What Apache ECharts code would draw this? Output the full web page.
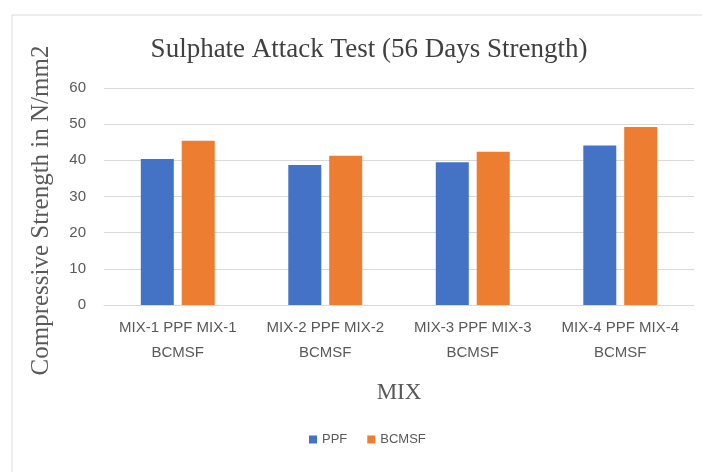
<!DOCTYPE html>
<html>
<head>
<meta charset="utf-8">
<title>Sulphate Attack Test</title>
<script src="https://cdn.jsdelivr.net/npm/echarts@6/dist/echarts.min.js"></script>
<style>
  html, body { margin: 0; padding: 0; background: #fff; }
  #chart { width: 702px; height: 472px; }
</style>
</head>
<body>
<div id="chart"></div>
<script>
// values
const categories = ['MIX-1 PPF MIX-1 BCMSF', 'MIX-2 PPF MIX-2 BCMSF', 'MIX-3 PPF MIX-3 BCMSF', 'MIX-4 PPF MIX-4 BCMSF']
const ppf = [40.4, 38.7, 39.5, 44.1]
const bcmsf = [45.4, 41.3, 42.4, 49.2]
const yTicks = [0, 10, 20, 30, 40, 50, 60]

const serif = '"Liberation Serif", "DejaVu Serif", serif'
const sans = '"Liberation Sans", Arial, sans-serif'
const grey = '#595959'

const chart = echarts.init(document.getElementById('chart'))

chart.setOption({
  animation: false,
  title: {
    text: 'Sulphate Attack Test (56 Days Strength)',
    left: 364,
    top: 31,
    textAlign: 'center',
    textStyle: { fontFamily: serif, fontWeight: 'normal', fontSize: 27, color: '#404040' },
  },
  // faint frame left over from the spreadsheet screenshot
  graphic: [
    { type: 'line', shape: { x1: 12, y1: 15, x2: 702, y2: 15 }, style: { stroke: '#d9d9d9', lineWidth: 1 } },
    { type: 'line', shape: { x1: 12, y1: 15, x2: 12, y2: 472 }, style: { stroke: '#d9d9d9', lineWidth: 1 } },
  ],
  legend: {
    data: ['PPF', 'BCMSF'],
    bottom: 21,
    left: 304,
    icon: 'rect',
    itemWidth: 8,
    itemHeight: 8,
    itemGap: 20,
    textStyle: { fontFamily: sans, fontSize: 13, color: grey },
  },
  grid: {
    left: 104,
    right: 8,
    top: 88,
    bottom: 167,
  },
  xAxis: {
    type: 'category',
    data: categories,
    name: 'MIX',
    nameLocation: 'middle',
    nameGap: 76,
    nameTextStyle: { fontFamily: serif, fontSize: 23, color: grey },
    axisLine: { lineStyle: { color: '#d9d9d9' } },
    axisTick: { show: false },
    axisLabel: {
      interval: 0,
      fontFamily: sans,
      fontSize: 15,
      color: grey,
      lineHeight: 25,
      margin: 10,
      formatter: (v) => v.replace(' BCMSF', '\nBCMSF'),
    },
  },
  yAxis: {
    type: 'value',
    min: yTicks[0],
    max: yTicks[yTicks.length - 1],
    interval: 10,
    name: 'Compressive Strength in N/mm2',
    nameLocation: 'middle',
    nameGap: 50,
    nameTextStyle: { fontFamily: serif, fontSize: 25, color: grey, padding: [0, 0, 0, -28] },
    axisLine: { show: false },
    axisTick: { show: false },
    axisLabel: { fontFamily: sans, fontSize: 15, color: grey, margin: 18 },
    splitLine: { lineStyle: { color: '#d9d9d9' } },
  },
  series: [
    {
      name: 'PPF',
      type: 'bar',
      data: ppf,
      barWidth: 33,
      barGap: '24%',
      itemStyle: { color: '#4472C4' },
    },
    {
      name: 'BCMSF',
      type: 'bar',
      data: bcmsf,
      barWidth: 33,
      barGap: '24%',
      itemStyle: { color: '#ED7D31' },
    },
  ],
})
</script>
</body>
</html>
